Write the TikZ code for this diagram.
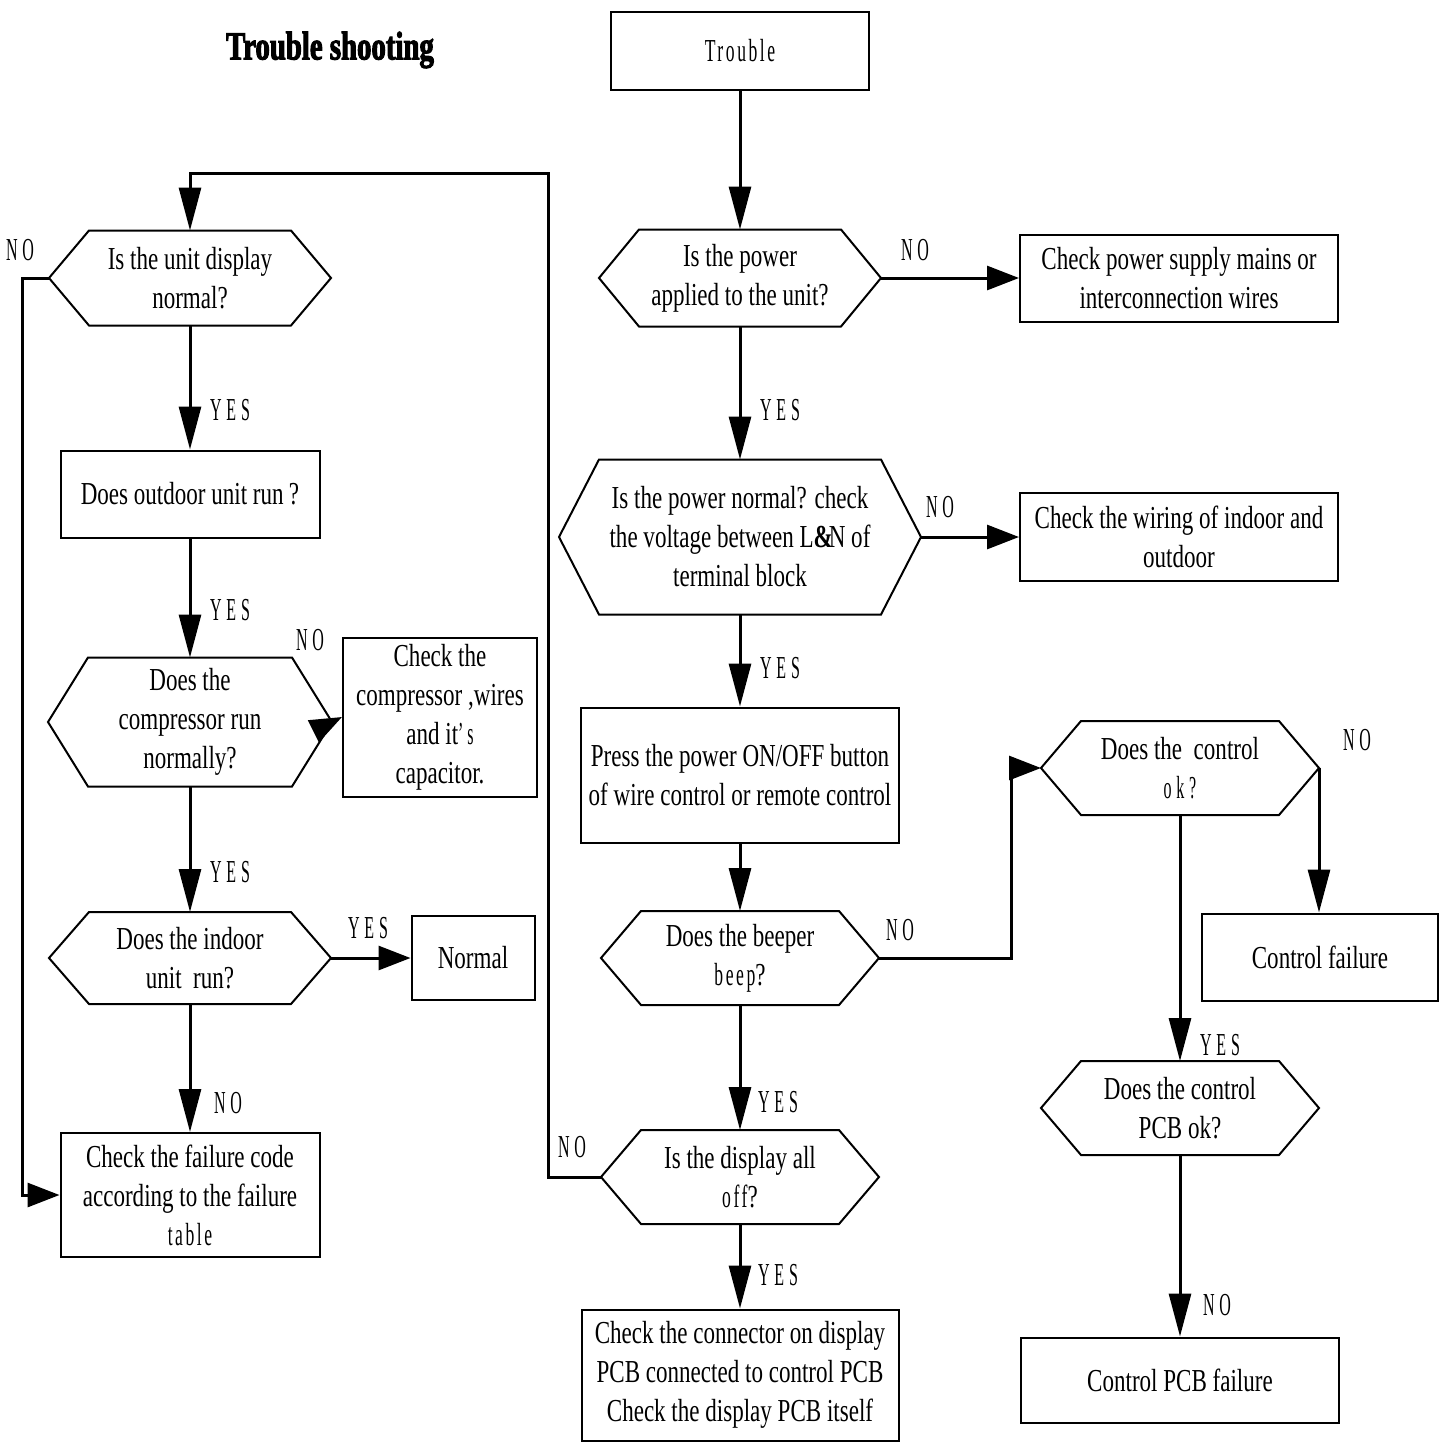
\documentclass[tikz,border=0pt]{standalone}
\usepackage{fontspec}
\setmainfont{Liberation Serif}[FakeStretch=0.72]
\newfontfamily\lblfont{Liberation Serif}[FakeStretch=0.5,LetterSpace=15]
\newfontfamily\spcfont{Liberation Serif}[FakeStretch=0.55,LetterSpace=8]
\newfontfamily\ttlfont{Liberation Serif}[FakeStretch=0.72,BoldFeatures={FakeBold=2.5}]
\usetikzlibrary{arrows.meta,calc}

\begin{document}
\begin{tikzpicture}[x=1pt,y=-1pt,
    box/.style={draw,line width=2pt,inner sep=0pt,align=center,font=\fontsize{32}{39}\selectfont},
    dec/.style={box,draw=none},
    sz/.style 2 args={minimum width=#1pt,minimum height=#2pt},
    lbl/.style={inner sep=0pt,font=\lblfont\fontsize{32}{32}\selectfont},
    conn/.style={line width=3pt,-{Triangle[length=43pt,width=22pt]}},
    hconn/.style={line width=3pt,-{Triangle[length=32pt,width=24pt]}}]
  \useasboundingbox (0,0) rectangle (1450,1452);
  \node[font=\ttlfont\bfseries\fontsize{40}{40}\selectfont] (title) at (330,50) {Trouble shooting};
  \node[box,sz={258}{78},font=\spcfont\fontsize{32}{39}\selectfont] (trouble) at (740,51) {Trouble};
  \node[dec,sz={280}{95}] (d1) at (740,278) {Is the power\\applied to the unit?};
  \node[box,sz={318}{87}] (p1) at (1179,278) {Check power supply mains or\\interconnection wires};
  \node[dec,sz={360}{153}] (d2) at (740,537) {Is the power normal? check\\the voltage between L{\bfseries\&}\kern-4pt N of\\terminal block};
  \node[box,sz={318}{88}] (p2) at (1179,537) {Check the wiring of indoor and\\outdoor};
  \node[box,sz={318}{135}] (b3) at (740,775) {Press the power ON/OFF button\\of wire control or remote control};
  \node[dec,sz={276}{92}] (d4) at (740,958) {Does the beeper\\{\spcfont beep}?};
  \node[dec,sz={276}{92}] (d5) at (1180,768) {Does the\ \ control\\{\lblfont ok?}};
  \node[box,sz={236}{87}] (cf) at (1320,957) {Control failure};
  \node[dec,sz={276}{92}] (d6) at (1180,1108) {Does the control\\PCB ok?};
  \node[box,sz={318}{85}] (cpf) at (1180,1380) {Control PCB failure};
  \node[dec,sz={276}{92}] (d7) at (740,1177) {Is the display all\\{\spcfont off}?};
  \node[box,sz={317}{131}] (b8) at (740,1375) {Check the connector on display\\PCB connected to control PCB\\Check the display PCB itself};
  \node[dec,sz={280}{93}] (l1) at (190,278) {Is the unit display\\normal?};
  \node[box,sz={259}{87}] (l2) at (190,494) {Does outdoor unit run\,?};
  \node[dec,sz={282}{127}] (l3) at (190,722) {Does the\\compressor run\\normally?};
  \node[box,sz={194}{159}] (l3b) at (440,717) {Check the\\compressor ,wires\\and it{\lblfont’s}\\capacitor.};
  \node[dec,sz={280}{90}] (l4) at (190,958) {Does the indoor\\unit\ \ run?};
  \node[box,sz={123}{84}] (nrm) at (473,958) {Normal};
  \node[box,sz={259}{124}] (l5) at (190,1195) {Check the failure code\\according to the failure\\{\spcfont table}};
  \foreach \n in {d1,d2,d4,d5,d6,d7,l1,l3,l4}
    \draw[line width=2pt] (\n.west) -- ([xshift=40pt]\n.north west) -- ([xshift=-40pt]\n.north east)
      -- (\n.east) -- ([xshift=-40pt]\n.south east) -- ([xshift=40pt]\n.south west) -- cycle;
  \coordinate (loopt) at (548,173);
  \coordinate (lft) at (22,278);
  \coordinate (bend) at (1011,768);
  \draw[conn] (trouble) -- (d1);
  \draw[hconn] (d1.east) -- (p1.west);
  \draw[conn] (d1) -- (d2);
  \draw[hconn] (d2.east) -- (p2.west);
  \draw[conn] (d2) -- (b3);
  \draw[conn] (b3) -- (d4);
  \draw[hconn] (d4.east) -| (bend) -- (d5.west);
  \draw[conn] (d5.east) -- (d5.east |- cf.north);
  \draw[conn] (d5) -- (d6);
  \draw[conn] (d6) -- (cpf);
  \draw[conn] (d4) -- (d7);
  \draw[conn] (d7.west) -| (loopt) -| (l1.north);
  \draw[conn] (d7) -- (b8);
  \draw[hconn] (l1.west) -- (lft) |- (l5.west);
  \draw[conn] (l1) -- (l2);
  \draw[conn] (l2) -- (l3);
  \draw[hconn] (l3.east) -- (l3b.west);
  \draw[conn] (l3) -- (l4);
  \draw[hconn] (l4.east) -- (nrm.west);
  \draw[conn] (l4) -- (l5);
  \node[lbl] (no1) at (915,250) {NO};
  \node[lbl] (yes1) at (780,410) {YES};
  \node[lbl] (no2) at (940,507) {NO};
  \node[lbl] (yes2) at (780,668) {YES};
  \node[lbl] (no4) at (900,930) {NO};
  \node[lbl] (no5) at (1357,740) {NO};
  \node[lbl] (yes5) at (1220,1045) {YES};
  \node[lbl] (no6) at (1217,1305) {NO};
  \node[lbl] (yes4) at (778,1102) {YES};
  \node[lbl] (no7) at (572,1147) {NO};
  \node[lbl] (yes7) at (778,1275) {YES};
  \node[lbl] (nol1) at (20,250) {NO};
  \node[lbl] (yesl1) at (230,410) {YES};
  \node[lbl] (yesl2) at (230,610) {YES};
  \node[lbl] (nol3) at (310,640) {NO};
  \node[lbl] (yesl3) at (230,872) {YES};
  \node[lbl] (yesl4) at (368,928) {YES};
  \node[lbl] (nol4) at (228,1103) {NO};
\end{tikzpicture}
\end{document}
